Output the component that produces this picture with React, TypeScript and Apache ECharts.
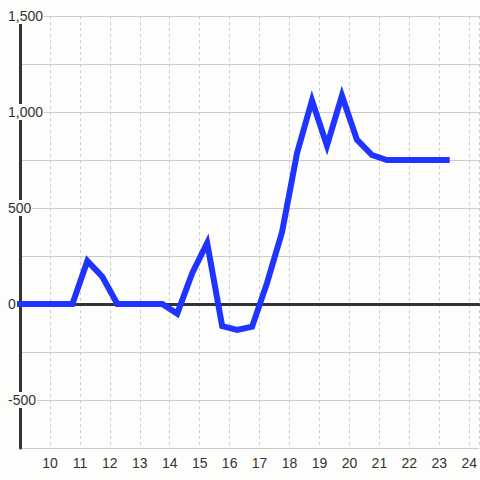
import React, { useEffect, useRef } from "react";
import * as echarts from "echarts";

const xValues = [8.75, 9.25, 9.75, 10.25, 10.75, 11.25, 11.75, 12.25, 12.75, 13.25, 13.75, 14.25, 14.75, 15.25, 15.75, 16.25, 16.75, 17.25, 17.75, 18.25, 18.75, 19.25, 19.75, 20.25, 20.75, 21.25, 21.75, 22.25, 22.75, 23.35];
const yValues = [0, 0, 0, 0, 0, 224, 142, 0, 0, 0, 0, -50, 160, 318, -115, -135, -118, 110, 375, 786, 1060, 825, 1085, 856, 776, 750, 750, 750, 750, 750];
const xMin = 9;
const xMax = 24.3333;
const yMin = -750;
const yMax = 1500;
const yLabelValues = [-500, 0, 500, 1000, 1500];

export default function App() {
  const ref = useRef<HTMLDivElement>(null);
  useEffect(() => {
    document.body.style.margin = "0";
    const chart = echarts.init(ref.current!, null, { renderer: "svg" });
    const bg = "#fdfdfb";
    const data = xValues.map((x, i) => [x, yValues[i]]);
    chart.setOption({
      animation: false,
      backgroundColor: bg,
      grid: { left: 20, right: 0, top: 16, bottom: 32, containLabel: false },
      xAxis: [
        {
          type: "value",
          min: xMin,
          max: xMax,
          interval: 1,
          axisLine: { show: false, onZero: false },
          axisTick: { show: false },
          axisLabel: {
            color: "#333",
            fontSize: 14,
            fontFamily: "Liberation Sans, Arial, sans-serif",
            margin: 8,
            showMinLabel: false,
            showMaxLabel: false,
            formatter: (v: number) => (Number.isInteger(v) && v > xMin ? String(v) : ""),
          },
          splitLine: { show: true, lineStyle: { color: "#cccccc", width: 1, type: [3, 3] } },
        },
        {
          type: "value",
          min: xMin,
          max: xMax,
          interval: 1,
          axisLine: { show: true, onZero: true, onZeroAxisIndex: 0, lineStyle: { color: "#333", width: 3 } },
          axisTick: { show: false },
          axisLabel: { show: false },
          splitLine: { show: false },
        },
      ],
      yAxis: [
        {
          type: "value",
          min: yMin,
          max: yMax,
          interval: 250,
          axisLine: { show: true, lineStyle: { color: "#333", width: 3 } },
          axisTick: { show: false },
          axisLabel: { show: false },
          splitLine: { show: true, lineStyle: { color: "#cccccc", width: 1 } },
        },
        {
          type: "value",
          min: yMin,
          max: yMax,
          interval: 250,
          position: "left",
          z: 10,
          axisLine: { show: false },
          axisTick: { show: false },
          splitLine: { show: false },
          axisLabel: {
            color: "#333",
            fontSize: 14,
            fontFamily: "Liberation Sans, Arial, sans-serif",
            align: "left",
            margin: 13,
            backgroundColor: bg,
            padding: [1, 1],
            formatter: (v: number) => (yLabelValues.includes(v) ? v.toLocaleString("en-US") : ""),
          },
        },
      ],
      series: [
        {
          type: "line",
          xAxisIndex: 0,
          yAxisIndex: 0,
          data,
          showSymbol: false,
          symbol: "none",
          clip: true,
          z: 3,
          lineStyle: { color: "#1f35ff", width: 6, cap: "butt", join: "miter" },
        },
      ],
    });
    return () => chart.dispose();
  }, []);
  return <div ref={ref} style={{ width: 480, height: 480 }} />;
}
